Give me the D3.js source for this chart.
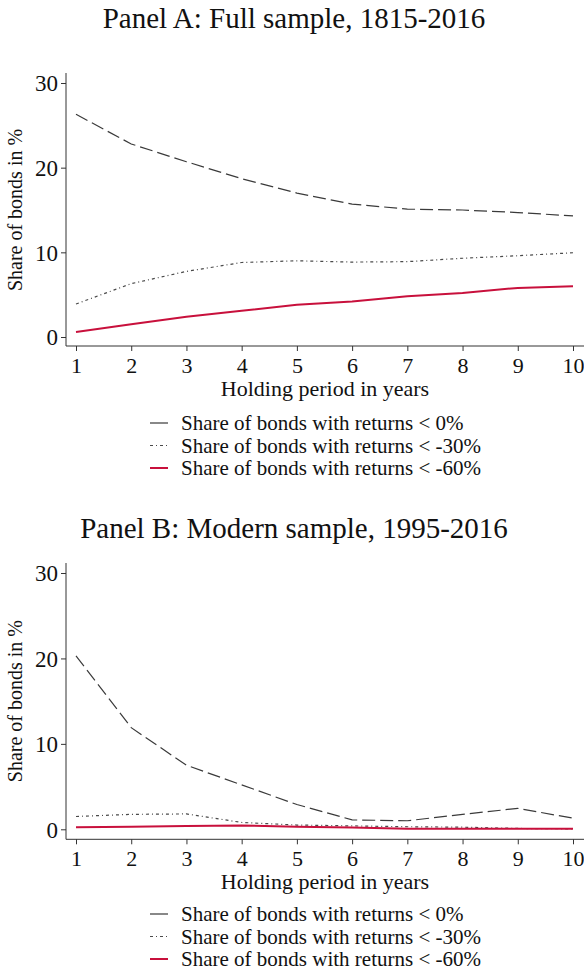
<!DOCTYPE html>
<html>
<head>
<meta charset="utf-8">
<script src="https://cdn.jsdelivr.net/npm/d3@7"></script>
<style>
  body { margin: 0; background: #fff; }
  svg text { font-family: "Liberation Serif", "Times New Roman", serif; fill: #111; }
</style>
</head>
<body>
<script>
// holding periods (years)
var years = [1, 2, 3, 4, 5, 6, 7, 8, 9, 10];

// Panel A: full sample, 1815-2016
var fullBelow0   = [26.3, 22.8, 20.7, 18.7, 17.0, 15.7, 15.1, 15.0, 14.7, 14.3];
var fullBelow30  = [3.9, 6.3, 7.75, 8.8, 9.0, 8.85, 8.9, 9.3, 9.6, 9.95];
var fullBelow60  = [0.6, 1.5, 2.4, 3.1, 3.8, 4.2, 4.8, 5.2, 5.8, 6.0];

// Panel B: modern sample, 1995-2016
var modernBelow0  = [20.3, 11.9, 7.5, 5.2, 2.9, 1.1, 1.0, 1.75, 2.45, 1.3];
var modernBelow30 = [1.5, 1.75, 1.8, 0.8, 0.5, 0.4, 0.3, 0.25, 0.1, 0.05];
var modernBelow60 = [0.25, 0.3, 0.4, 0.45, 0.3, 0.2, 0.05, 0.05, 0.05, 0.05];

var yTicks = [0, 10, 20, 30];
var legendLabels = ["Share of bonds with returns < 0%",
                    "Share of bonds with returns < -30%",
                    "Share of bonds with returns < -60%"];
var panelTitles = ["Panel A: Full sample, 1815-2016",
                   "Panel B: Modern sample, 1995-2016"];

// line styles for the three series
var styles = [
  {stroke: "#3a3a3a", width: 1.2, dash: "13,5"},
  {stroke: "#4a4a4a", width: 1.2, dash: "3,3,1,3"},
  {stroke: "#c8103c", width: 2, dash: null}
];

var W = 584, H = 973;
var svg = d3.select("body").append("svg")
    .attr("width", W)
    .attr("height", H);

var x = d3.scaleLinear().domain([1, 10]).range([76, 573]);

// top: panel offset, titleY: title baseline, y0: pixel of value 0,
// axisY: x axis line, legendY: first legend row
function drawPanel(top, title, titleY, y0, axisY, legendY, series) {
  var g = svg.append("g").attr("transform", "translate(0," + top + ")");
  var y = d3.scaleLinear().domain([0, 30]).range([y0, 83]);
  var axisX = 66, plotTop = 73;

  // title
  g.append("text")
      .attr("x", 294)
      .attr("y", titleY)
      .attr("text-anchor", "middle")
      .style("font-size", "29px")
      .text(title);

  // y axis
  var ya = g.append("g")
      .attr("transform", "translate(" + axisX + ",0)")
      .call(d3.axisLeft(y).tickValues(yTicks).tickSize(5).tickPadding(3));
  ya.select(".domain").attr("d", "M0," + plotTop + "V" + axisY).attr("stroke", "#333");
  ya.selectAll(".tick line").attr("stroke", "#333");
  ya.selectAll(".tick text").style("font-size", "23px").attr("dy", "0.34em");

  // x axis
  var xa = g.append("g")
      .attr("transform", "translate(0," + axisY + ")")
      .call(d3.axisBottom(x).tickValues(years).tickSize(5).tickPadding(6));
  xa.select(".domain").attr("d", "M" + axisX + ",0H" + W).attr("stroke", "#333");
  xa.selectAll(".tick line").attr("stroke", "#333");
  xa.selectAll(".tick text").style("font-size", "22px");

  // axis titles
  g.append("text")
      .attr("x", 325)
      .attr("y", axisY + 50)
      .attr("text-anchor", "middle")
      .style("font-size", "22px")
      .text("Holding period in years");

  g.append("text")
      .attr("transform", "translate(22," + (y0 + 83) / 2 + ") rotate(-90)")
      .attr("text-anchor", "middle")
      .style("font-size", "20px")
      .text("Share of bonds in %");

  // lines
  var line = d3.line()
      .x(function(d, i) { return x(years[i]); })
      .y(function(d) { return y(d); });

  series.forEach(function(s, k) {
    g.append("path")
        .datum(s)
        .attr("fill", "none")
        .attr("stroke", styles[k].stroke)
        .attr("stroke-width", styles[k].width)
        .attr("stroke-dasharray", styles[k].dash)
        .attr("d", line);
  });

  // legend
  var lg = g.append("g").attr("transform", "translate(150," + legendY + ")");
  legendLabels.forEach(function(lab, k) {
    var row = lg.append("g").attr("transform", "translate(0," + (k * 22.5) + ")");
    row.append("line")
        .attr("x1", 0).attr("x2", 18)
        .attr("stroke", styles[k].stroke)
        .attr("stroke-width", styles[k].width)
        .attr("stroke-dasharray", k === 1 ? "3,3,1,3" : null);
    row.append("text")
        .attr("x", 31)
        .attr("dy", "0.35em")
        .style("font-size", "21px")
        .text(lab);
  });
}

drawPanel(0, panelTitles[0], 28, 337, 346, 423, [fullBelow0, fullBelow30, fullBelow60]);
drawPanel(490, panelTitles[1], 48, 339.3, 349.3, 424, [modernBelow0, modernBelow30, modernBelow60]);
</script>
</body>
</html>
